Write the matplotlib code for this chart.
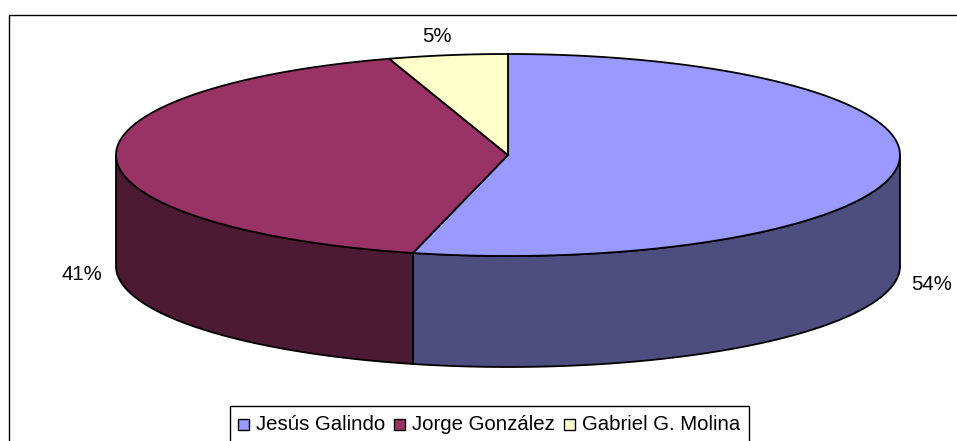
import numpy as np
from matplotlib import pyplot as plt
from matplotlib.patches import Polygon, Rectangle

nombres = ['Jesús Galindo', 'Jorge González', 'Gabriel G. Molina']
valores = [53.9, 41.2, 4.9]
etiquetas = ['54%', '41%', '5%']
colores = ['#9999FF', '#993366', '#FFFFCC']
colores_lado = ['#4D4D80', '#4D1A33', '#808066']

ANCHO, ALTO = 957, 441
CX, CY = 508, 155
RX, RY = 392, 101
PROF = 111
TAM_FUENTE = 14.7

plt.rcParams['font.family'] = ['Liberation Sans', 'DejaVu Sans']


def punto(ang, dy=0):
  # angulo en grados, horario desde arriba
  a = np.radians(ang)
  return CX + RX * np.sin(a), CY - RY * np.cos(a) + dy


fig = plt.figure(figsize=(ANCHO / 100, ALTO / 100), dpi=100)
ax = fig.add_axes([0, 0, 1, 1])
ax.set_xlim(0, ANCHO)
ax.set_ylim(ALTO, 0)
ax.axis('off')

# marco del grafico, se sale de la imagen por la derecha y por abajo
ax.add_patch(Rectangle((9, 14.5), 960, 440, fc='white', ec='black', lw=1, zorder=0))

cortes = np.concatenate([[0], np.cumsum(valores)]) * 3.6

# lados visibles (solo la mitad de abajo, de 90 a 270 grados)
for i in range(len(valores)):
  ini, fin = max(cortes[i], 90), min(cortes[i + 1], 270)
  if ini >= fin:
    continue
  angs = np.linspace(ini, fin, 120)
  arriba = [punto(a) for a in angs]
  abajo = [punto(a, PROF) for a in angs[::-1]]
  ax.add_patch(Polygon(arriba + abajo, closed=True, fc=colores_lado[i], ec='black', lw=1.3, zorder=2))

# tapa
for i in range(len(valores)):
  angs = np.linspace(cortes[i], cortes[i + 1], 200)
  pts = [(CX, CY)] + [punto(a) for a in angs]
  ax.add_patch(Polygon(pts, closed=True, fc=colores[i], ec='black', lw=1.3, zorder=3))

# porcentajes
ax.text(932, 285, etiquetas[0], ha='center', va='center', fontsize=TAM_FUENTE, color='black')
ax.text(82, 275, etiquetas[1], ha='center', va='center', fontsize=TAM_FUENTE, color='black')
ax.text(437, 37, etiquetas[2], ha='center', va='center', fontsize=TAM_FUENTE, color='black')

# leyenda
ax.add_patch(Rectangle((229.5, 405.5), 519, 45, fc='white', ec='black', lw=1, zorder=5))
pos_cuadro = [238, 394, 564]
for i in range(len(nombres)):
  ax.add_patch(Rectangle((pos_cuadro[i], 419), 11, 11, fc=colores[i], ec='black', lw=1, zorder=6))
  ax.text(pos_cuadro[i] + 18, 425, nombres[i], ha='left', va='center', fontsize=TAM_FUENTE, color='black', zorder=6)

fig.savefig('out.png', dpi=100)
